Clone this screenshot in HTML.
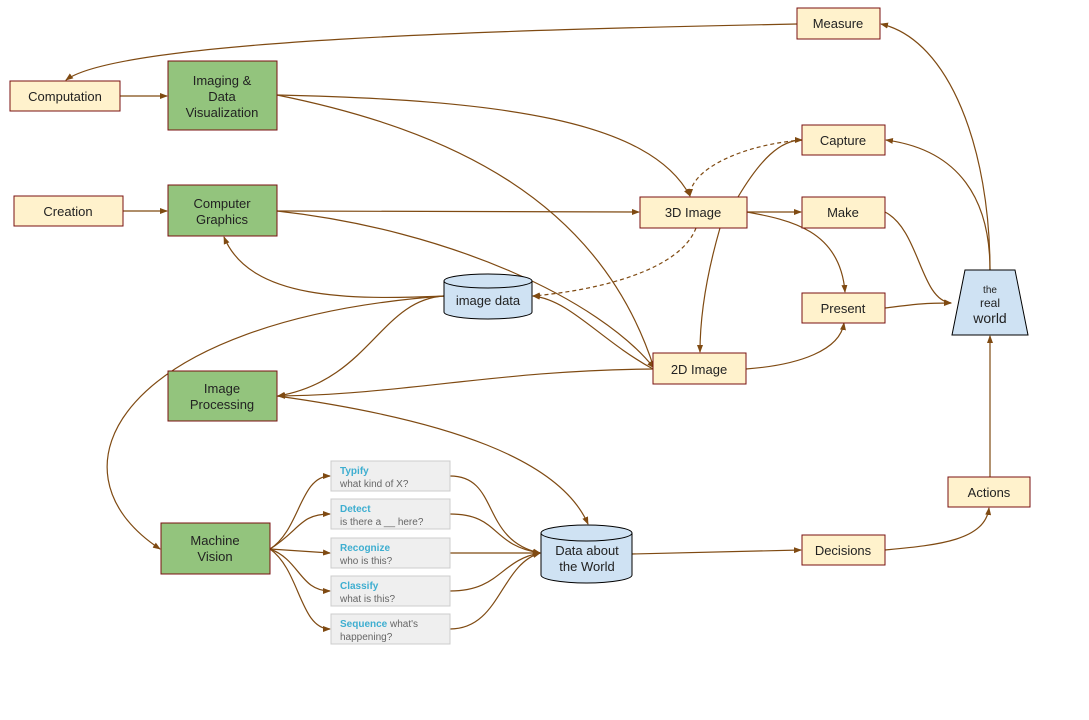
<!DOCTYPE html>
<html><head><meta charset="utf-8"><style>
body{margin:0;background:#fff;}
svg text{font-family:"Liberation Sans",sans-serif;}
</style></head><body>
<svg width="1089" height="715" viewBox="0 0 1089 715" xmlns="http://www.w3.org/2000/svg">
<defs><marker id="a" markerWidth="8" markerHeight="6" refX="7" refY="3" orient="auto" markerUnits="userSpaceOnUse"><path d="M0,0 L8,3 L0,6 z" fill="#7f4a12"/></marker></defs>
<g fill="none" stroke="#7f4a12" stroke-width="1.2" marker-end="url(#a)">
<path d="M797,24 C500,30 120,40 66,80"/>
<path d="M120,96 L167,96"/>
<path d="M123,211 L167,211"/>
<path d="M277,95 C500,100 650,120 690,196"/>
<path d="M277,95 C450,130 600,200 654,368"/>
<path d="M277,211 L639,212"/>
<path d="M277,211 C450,230 600,300 654,368"/>
<path d="M444,296 C350,300 250,300 224,237"/>
<path d="M444,296 C380,300 370,380 278,396"/>
<path d="M444,296 C120,320 40,470 160,549"/>
<path d="M747,212 L801,212"/>
<path d="M747,212 C790,220 840,230 845,292"/>
<path d="M720,228 C705,280 700,320 700,352"/>
<path d="M738,197 C760,160 780,140 802,140"/>
<path d="M990,270 C990,150 950,40 881,24"/>
<path d="M990,270 C990,200 960,150 886,140"/>
<path d="M885,212 C920,230 920,300 951,303"/>
<path d="M885,308 C910,305 920,303 951,303"/>
<path d="M746,369 C800,365 840,350 844,323"/>
<path d="M653,369 C600,340 570,300 533,296"/>
<path d="M653,369 C500,370 400,395 278,396"/>
<path d="M277,396 C450,420 560,460 588,524"/>
<path d="M990,477 L990,336"/>
<path d="M885,550 C940,545 985,540 989,508"/>
<path d="M632,554 L801,550"/>
<path d="M270,549 C300,530 300,476 330,476"/>
<path d="M270,549 C300,530 300,514 330,514"/>
<path d="M270,549 L330,553"/>
<path d="M270,549 C300,560 300,591 330,591"/>
<path d="M270,549 C300,570 300,629 330,629"/>
<path d="M450,476 C500,476 480,540 540,553"/>
<path d="M450,514 C500,514 490,545 540,553"/>
<path d="M450,553 L540,553"/>
<path d="M450,591 C500,591 500,560 540,553"/>
<path d="M450,629 C500,629 500,565 540,553"/>
</g>
<g fill="none" stroke="#7f4a12" stroke-width="1.2" stroke-dasharray="4,3" marker-end="url(#a)">
<path d="M802,140 C740,145 690,170 690,196"/>
<path d="M696,228 C680,270 600,290 533,296"/>
</g>
<g fill="#fff2cc" stroke="#7a1010" stroke-width="1">
<rect x="797" y="8" width="83" height="31"/>
<rect x="10" y="81" width="110" height="30"/>
<rect x="14" y="196" width="109" height="30"/>
<rect x="802" y="125" width="83" height="30"/>
<rect x="640" y="197" width="107" height="31"/>
<rect x="802" y="197" width="83" height="31"/>
<rect x="802" y="293" width="83" height="30"/>
<rect x="653" y="353" width="93" height="31"/>
<rect x="948" y="477" width="82" height="30"/>
<rect x="802" y="535" width="83" height="30"/>
</g>
<g fill="#93c47d" stroke="#7a1010" stroke-width="1">
<rect x="168" y="61" width="109" height="69"/>
<rect x="168" y="185" width="109" height="51"/>
<rect x="168" y="371" width="109" height="50"/>
<rect x="161" y="523" width="109" height="51"/>
</g>
<g fill="#efefef" stroke="#cccccc" stroke-width="1">
<rect x="331" y="461" width="119" height="30"/>
<rect x="331" y="499" width="119" height="30"/>
<rect x="331" y="538" width="119" height="30"/>
<rect x="331" y="576" width="119" height="30"/>
<rect x="331" y="614" width="119" height="30"/>
</g>
<g fill="#cfe2f3" stroke="#000" stroke-width="1">
<path d="M444,281 L444,312 A44,7 0 0 0 532,312 L532,281 A44,7 0 0 0 444,281 Z"/>
<path d="M444,281 A44,7 0 0 0 532,281"/>
<path d="M541,533 L541,575 A45.5,8 0 0 0 632,575 L632,533 A45.5,8 0 0 0 541,533 Z"/>
<path d="M541,533 A45.5,8 0 0 0 632,533"/>
<path d="M965,270 L1015,270 L1028,335 L952,335 Z"/>
</g>
<g font-size="13" fill="#222" text-anchor="middle">
<text x="838" y="28">Measure</text>
<text x="65" y="101">Computation</text>
<text x="68" y="216">Creation</text>
<text x="843" y="145">Capture</text>
<text x="693" y="217">3D Image</text>
<text x="843" y="217">Make</text>
<text x="843" y="313">Present</text>
<text x="699" y="374">2D Image</text>
<text x="989" y="497">Actions</text>
<text x="843" y="555">Decisions</text>
<text x="222" y="85">Imaging &amp;</text>
<text x="222" y="101">Data</text>
<text x="222" y="117">Visualization</text>
<text x="222" y="208">Computer</text>
<text x="222" y="224">Graphics</text>
<text x="222" y="393">Image</text>
<text x="222" y="409">Processing</text>
<text x="215" y="545">Machine</text>
<text x="215" y="561">Vision</text>
<text x="488" y="305">image data</text>
<text x="587" y="555">Data about</text>
<text x="587" y="571">the World</text>
<text x="990" y="293" font-size="10">the</text>
<text x="990" y="307" font-size="12">real</text>
<text x="990" y="323" font-size="14">world</text>
</g>
<g font-size="10" fill="#666">
<text x="340" y="474" fill="#3eaed0" font-weight="bold">Typify</text>
<text x="340" y="487">what kind of X?</text>
<text x="340" y="512" fill="#3eaed0" font-weight="bold">Detect</text>
<text x="340" y="525">is there a __ here?</text>
<text x="340" y="551" fill="#3eaed0" font-weight="bold">Recognize</text>
<text x="340" y="564">who is this?</text>
<text x="340" y="589" fill="#3eaed0" font-weight="bold">Classify</text>
<text x="340" y="602">what is this?</text>
<text x="340" y="627"><tspan fill="#3eaed0" font-weight="bold">Sequence</tspan> what's</text>
<text x="340" y="640">happening?</text>
</g>
</svg>
</body></html>
